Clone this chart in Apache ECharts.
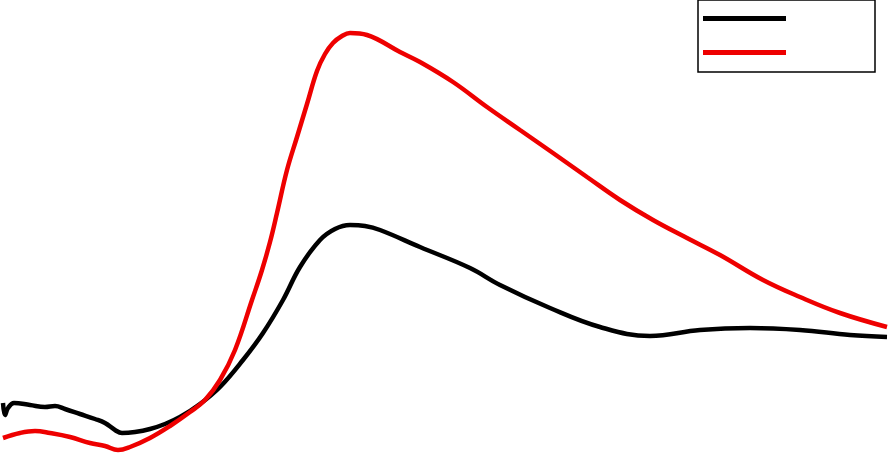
<!DOCTYPE html>
<html>
<head>
<meta charset="utf-8">
<script src="https://cdn.jsdelivr.net/npm/echarts@6/dist/echarts.min.js"></script>
<style>html,body{margin:0;padding:0;background:#fff}#c{width:890px;height:454px}</style>
</head>
<body>
<div id="c"></div>
<script>
// time (s) and signal values
const blackT = [0.3,0.5,0.8,1.4,3.0,4.5,5.5,6.5,8.0,9.5,10.5,11.5,12.2,13.5,15.0,16.5,18.0,20.0,22.0,24.3,26.3,28.3,30.0,32.0,33.5,35.0,36.5,38.0,42.0,47.0,50.0,55.0,60.0,65.0,70.0,75.0,80.0,85.0,88.7];
const blackV = [5.1,3.9,4.6,5.1,4.9,4.7,4.8,4.5,4.0,3.5,3.1,2.4,2.1,2.2,2.5,3.0,3.7,5.0,6.7,9.4,12.1,15.4,18.7,21.4,22.5,22.9,22.8,22.4,20.7,18.6,16.9,14.6,12.7,11.8,12.4,12.6,12.4,11.9,11.7];
const redT = [0.3,2.0,3.5,5.0,7.0,9.0,10.5,11.8,13.0,15.0,17.0,19.0,20.5,22.0,23.5,25.2,26.2,27.0,27.7,28.7,29.7,30.7,31.7,32.5,33.3,34.2,35.0,36.7,40.0,42.0,45.3,48.7,52.0,55.3,58.7,62.0,65.3,68.7,72.0,76.3,80.0,84.0,88.7];
const redV = [1.6,2.1,2.3,2.1,1.7,1.1,0.8,0.4,0.7,1.6,2.8,4.2,5.4,7.4,10.4,15.4,18.4,21.2,24.1,28.4,31.7,35.0,38.3,40.0,41.1,41.8,42.1,41.9,40.2,39.2,37.2,34.7,32.4,30.1,27.7,25.4,23.4,21.6,19.9,17.4,15.7,14.1,12.7];
const seriesNames = ['A', 'B'];

const zip = (t, v) => t.map((x, i) => [x, v[i]]);
const chart = echarts.init(document.getElementById('c'));
chart.setOption({
  animation: false,
  grid: {left: 0, right: 0, top: 0, bottom: 0},
  xAxis: {type: 'value', min: 0, max: 89, show: false},
  yAxis: {type: 'value', min: 0, max: 45.4, show: false},
  legend: {
    orient: 'vertical', left: 698, top: 0,
    padding: [16, 89, 17, 5], itemGap: 29,
    itemWidth: 83, itemHeight: 5, icon: 'rect',
    borderColor: '#000', borderWidth: 1.5,
    formatter: () => '', textStyle: {fontSize: 1}
  },
  series: [
    {name: seriesNames[0], type: 'line', data: zip(blackT, blackV), smooth: 0.4, showSymbol: false,
     lineStyle: {color: '#000', width: 4.5}, itemStyle: {color: '#000'}},
    {name: seriesNames[1], type: 'line', data: zip(redT, redV), smooth: 0.4, showSymbol: false,
     lineStyle: {color: '#ee0000', width: 4.5}, itemStyle: {color: '#ee0000'}}
  ]
});
</script>
</body>
</html>
